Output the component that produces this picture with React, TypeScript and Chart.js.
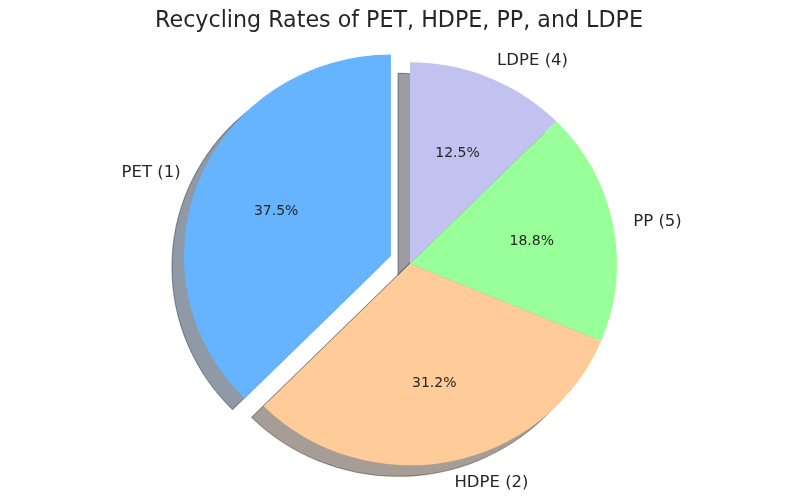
import React, { useEffect, useRef } from "react";
import { Chart, registerables } from "chart.js";

Chart.register(...registerables);

const titleText = "Recycling Rates of PET, HDPE, PP, and LDPE";
const labels = ["PET (1)", "HDPE (2)", "PP (5)", "LDPE (4)"];
const shares = [37.5, 31.25, 18.75, 12.5];
const colors = ["#66b3ff", "#ffcc99", "#99ff99", "#c2c2f0"];
const explode = [0.1, 0, 0, 0];

// matplotlib draws counterclockwise from 90deg; Chart.js draws clockwise,
// so feed the slices in reverse order.
const order = labels.map((_, i) => labels.length - 1 - i);
const chartLabels = order.map((i) => labels[i]);
const chartValues = order.map((i) => shares[i]);
const chartColors = order.map((i) => colors[i]);
const chartExplode = order.map((i) => explode[i]);

function fmtPct(x: number): string {
  const v = x * 10;
  const f = Math.floor(v);
  let n: number;
  if (Math.abs(v - f - 0.5) < 1e-9) n = f % 2 === 0 ? f : f + 1;
  else n = Math.round(v);
  return (n / 10).toFixed(1) + "%";
}

function shadowColor(hex: string): string {
  const r = parseInt(hex.slice(1, 3), 16);
  const g = parseInt(hex.slice(3, 5), 16);
  const b = parseInt(hex.slice(5, 7), 16);
  return `rgba(${Math.round(r * 0.3)},${Math.round(g * 0.3)},${Math.round(b * 0.3)},0.5)`;
}

const FONT = "'DejaVu Sans', Verdana, sans-serif";
const SHADOW_DX = -12;
const SHADOW_DY = 11;
const SX = 1.027; // slight horizontal stretch of the reference pie
const TEXT_DY = 1.2;

const mplPiePlugin = {
  id: "mplPie",
  beforeDatasetDraw(chart: any) {
    const ctx: CanvasRenderingContext2D = chart.ctx;
    const meta = chart.getDatasetMeta(0);
    const geo = meta.data.map((arc: any, i: number) => {
      const p = arc.getProps(["x", "y", "startAngle", "endAngle", "outerRadius"], true);
      const mid = (p.startAngle + p.endAngle) / 2;
      const ex = chartExplode[i] * p.outerRadius;
      return { arc, p, mid, tx: Math.cos(mid) * ex, ty: Math.sin(mid) * ex };
    });
    const stretch = (x0: number) => {
      ctx.translate(x0, 0);
      ctx.scale(SX, 1);
      ctx.translate(-x0, 0);
    };
    // shadows
    geo.forEach((g: any, i: number) => {
      ctx.save();
      ctx.translate(SHADOW_DX, SHADOW_DY);
      stretch(g.p.x);
      const cx = g.p.x + g.tx;
      const cy = g.p.y + g.ty;
      ctx.beginPath();
      ctx.moveTo(cx, cy);
      ctx.arc(cx, cy, g.p.outerRadius, g.p.startAngle, g.p.endAngle);
      ctx.closePath();
      const c = shadowColor(chartColors[i]);
      ctx.fillStyle = c;
      ctx.fill();
      ctx.strokeStyle = c;
      ctx.lineWidth = 1;
      ctx.stroke();
      ctx.restore();
    });
    // wedges
    geo.forEach((g: any) => {
      ctx.save();
      stretch(g.p.x);
      ctx.translate(g.tx, g.ty);
      g.arc.draw(ctx);
      ctx.restore();
    });
    return false;
  },
  afterDatasetsDraw(chart: any) {
    const ctx: CanvasRenderingContext2D = chart.ctx;
    const meta = chart.getDatasetMeta(0);
    ctx.save();
    ctx.fillStyle = "#262626";
    meta.data.forEach((arc: any, i: number) => {
      const p = arc.getProps(["x", "y", "startAngle", "endAngle", "outerRadius"], true);
      const mid = (p.startAngle + p.endAngle) / 2;
      const r = p.outerRadius;
      const ex = chartExplode[i] * r;
      const cx = p.x + Math.cos(mid) * ex * SX;
      const cy = p.y + Math.sin(mid) * ex;
      // outer label
      const lx = cx + Math.cos(mid) * r * 1.1 * SX;
      const ly = cy + Math.sin(mid) * r * 1.1 + TEXT_DY;
      ctx.font = `16.5px ${FONT}`;
      ctx.textBaseline = "middle";
      ctx.textAlign = Math.cos(mid) > 0 ? "left" : "right";
      ctx.fillText(chartLabels[i], lx, ly);
      // percentage
      const px = cx + Math.cos(mid) * r * 0.6 * SX;
      const py = cy + Math.sin(mid) * r * 0.6 + TEXT_DY;
      ctx.font = `14px ${FONT}`;
      ctx.textAlign = "center";
      ctx.fillText(fmtPct(chartValues[i]), px, py);
    });
    // title
    ctx.font = `22.2px ${FONT}`;
    ctx.textAlign = "center";
    ctx.textBaseline = "alphabetic";
    ctx.fillText(titleText, 399, 27);
    ctx.restore();
  },
};

export default function App() {
  const canvasRef = useRef<HTMLCanvasElement | null>(null);

  useEffect(() => {
    document.body.style.margin = "0";
    const canvas = canvasRef.current;
    if (!canvas) return;
    const chart = new Chart(canvas, {
      type: "pie",
      data: {
        labels: chartLabels,
        datasets: [
          {
            data: chartValues,
            backgroundColor: chartColors,
            borderWidth: 0,
          },
        ],
      },
      options: {
        animation: false,
        responsive: false,
        events: [],
        rotation: 0,
        radius: 201.5,
        layout: { padding: { left: 20, top: 27.6, right: 0, bottom: 0 } },
        plugins: {
          legend: { display: false },
          title: { display: false },
          tooltip: { enabled: false },
        },
      },
      plugins: [mplPiePlugin],
    });
    return () => chart.destroy();
  }, []);

  return (
    <div style={{ position: "absolute", left: 0, top: 0, width: 800, height: 500, background: "#fff" }}>
      <canvas ref={canvasRef} width={800} height={500} />
    </div>
  );
}
